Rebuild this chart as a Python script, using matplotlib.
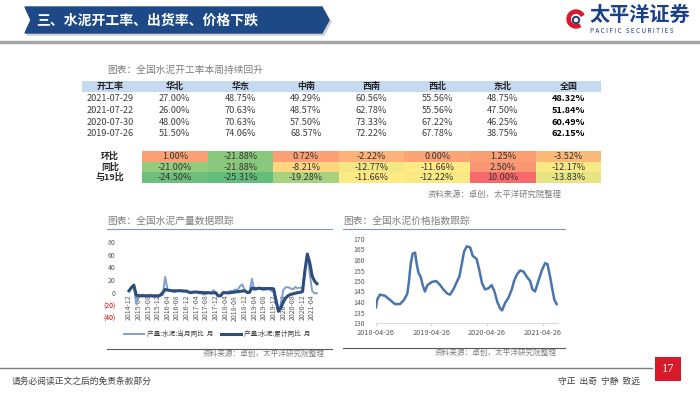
import numpy as np
import pandas as pd
import matplotlib
matplotlib.use("Agg")
import matplotlib.pyplot as plt
import matplotlib.dates as mdates
from matplotlib.patches import Polygon, Rectangle, Wedge, Circle
from matplotlib.colors import LinearSegmentedColormap, TwoSlopeNorm

plt.rcParams['font.family'] = ['Noto Sans CJK SC', 'DejaVu Sans']

W, H = 700, 394

# ---- 开工率表格 ----
weeks = ['2021-07-29', '2021-07-22', '2020-07-30', '2019-07-26']
regions = ['华北', '华东', '中南', '西南', '西北', '东北', '全国']
rate_210729 = [27.00, 48.75, 49.29, 60.56, 55.56, 48.75, 48.32]
rate_210722 = [26.00, 70.63, 48.57, 62.78, 55.56, 47.50, 51.84]
rate_200730 = [48.00, 70.63, 57.50, 73.33, 67.22, 46.25, 60.49]
rate_190726 = [51.50, 74.06, 68.57, 72.22, 67.78, 38.75, 62.15]
chg_labels = ['环比', '同比', '与19比']
chg_hb = [1.00, -21.88, 0.72, -2.22, 0.00, 1.25, -3.52]
chg_tb = [-21.00, -21.88, -8.21, -12.77, -11.66, 2.50, -12.17]
chg_19 = [-24.50, -25.31, -19.28, -11.66, -12.22, 10.00, -13.83]

# ---- 水泥产量同比 (月) ----
prod_months = pd.date_range('2014-12-01', '2021-06-01', freq='MS')
prod_month_yoy = [2, 9, 11, -18, -3, -4, -3, -5, -4, -3, -7, -6, -8,
                  -4, -4, 25, 5, 3, 2, 1, 3, 4, 2, 2, 2,
                  0, 0, 1, 1, -1, -1, -3, -2, 0, -1, 4, 0,
                  -5, -5, 0, -1, 1, 3, 2, 5, 4, 10, 13, 4,
                  0, 0, 22, 4, 5, 8, 5, 4, 5, 6, 3, 1,
                  -15, -29.5, -18, 4, 8.5, 8.6, 7, 5, 9, 7, 8, 7,
                  35, 61, 30, 2.5, -1, -1]
prod_cum_yoy = [3, 8, 12, -4, -5, -5, -5, -5, -5, -5, -5, -5, -5,
                -4, 0, 5, 4, 3.5, 3, 3, 3, 3, 3, 2.5, 2.5,
                0.5, 0.3, 1, 1, 0.5, 0.5, 0, 0, 0, -0.5, -0.3, -0.2,
                -5, -5, 0, 0, -0.5, 0, 0.5, 1, 1.5, 2, 2.5, 3,
                0.5, 0.5, 7.3, 6.5, 6.5, 7, 6.5, 6.5, 6.5, 6.5, 6.5, 6.1,
                -12, -29.5, -23.9, -14.8, -8.5, -4.8, -2.9, -1.9, -0.9, 0, 0.6, 1.6,
                35, 61, 47.3, 26.2, 18.2, 14.1]
prod_ticks = ['2014-12', '2015-04', '2015-08', '2015-12', '2016-04', '2016-08',
              '2016-12', '2017-04', '2017-08', '2017-12', '2018-04', '2018-08',
              '2018-12', '2019-04', '2019-08', '2019-12', '2020-04', '2020-08',
              '2020-12', '2021-04']

# ---- 水泥价格指数 ----
price_dates = ['2018-04-26', '2018-05-03', '2018-05-22', '2018-06-24', '2018-07-27',
               '2018-08-29', '2018-10-01', '2018-10-27', '2018-11-18', '2018-11-29',
               '2018-12-10', '2018-12-23', '2019-01-08', '2019-01-19', '2019-01-30',
               '2019-02-14', '2019-02-27', '2019-03-14', '2019-03-30', '2019-04-27',
               '2019-05-26', '2019-06-17', '2019-07-13', '2019-08-08', '2019-08-26',
               '2019-09-17', '2019-10-09', '2019-10-26', '2019-11-11', '2019-11-26',
               '2019-12-14', '2020-01-05', '2020-01-22', '2020-02-17', '2020-03-06',
               '2020-03-23', '2020-04-12', '2020-05-04', '2020-05-26', '2020-06-13',
               '2020-07-02', '2020-07-20', '2020-08-02', '2020-08-22', '2020-09-13',
               '2020-10-05', '2020-10-20', '2020-11-07', '2020-11-29', '2020-12-21',
               '2021-01-12', '2021-02-03', '2021-02-18', '2021-03-07', '2021-03-29',
               '2021-04-20', '2021-05-12', '2021-05-28', '2021-06-14', '2021-06-29',
               '2021-07-12', '2021-07-28']
price_index = [137.5, 141, 143.5, 143, 141,
               139, 139, 141, 144, 150,
               158, 163, 163.5, 158, 154,
               152, 148, 145, 148, 149.5,
               150, 148.5, 146, 144, 143.5,
               146, 149.5, 152, 158, 164,
               166.5, 166, 162, 160.5, 155,
               149, 146, 146.5, 148, 145,
               140, 137, 136, 139.5, 142,
               146, 150, 153, 155, 154.5,
               152, 150, 146, 145, 150,
               155, 158.5, 158, 152, 146,
               141, 139]
price_ticks = ['2018-04-26', '2019-04-26', '2020-04-26', '2021-04-26']


def frac(x0, y0, x1, y1):
    # 像素框 -> figure 坐标
    return [x0 / W, 1 - y1 / H, (x1 - x0) / W, (y1 - y0) / H]


fig = plt.figure(figsize=(7, 3.94), dpi=100)
bg = fig.add_axes([0, 0, 1, 1])
bg.set_xlim(0, W)
bg.set_ylim(H, 0)
bg.axis('off')

# 标题栏
bg.add_patch(Polygon([(27, 10), (324, 10), (331, 22), (324, 35), (27, 35), (33, 22)],
                     closed=True, color='#D0D0D0', zorder=1))
bg.add_patch(Polygon([(25, 7), (322, 7), (329, 20), (322, 33), (25, 33), (31, 20)],
                     closed=True, color='#1D4A86', zorder=2))
bg.text(36, 20.5, '三、水泥开工率、出货率、价格下跌', color='white', fontsize=10,
        fontweight='bold', va='center', ha='left', zorder=3)

# logo
bg.add_patch(Wedge((576, 19), 9, 60, 330, width=3.2, color='#D7192A'))
bg.add_patch(Circle((576, 20), 3.2, fill=False, ec='#1C3F8A', lw=1.4))
bg.text(589, 14, '太平洋证券', color='#1C3F8A', fontsize=14.5, fontweight='bold',
        va='center', ha='left')
bg.text(590, 31, 'P A C I F I C   S E C U R I T I E S', color='#1C3F8A', fontsize=4.6,
        va='center', ha='left')
bg.plot([0, W], [42, 42], color='#A6A6A6', lw=2.5)

# 表格
gray_txt = '#404040'
bg.text(107, 70, '图表：全国水泥开工率本周持续回升', fontsize=7, color='#7F7F7F',
        va='center', ha='left')
col_x0, col_w = 142, 65.6
bg.add_patch(Rectangle((82, 81), 601 - 82, 11, color='#C5D9F1', lw=0))
bg.text(110, 86.5, '开工率', fontsize=6.5, fontweight='bold', color='#262626',
        ha='center', va='center')
for j, r in enumerate(regions):
    bg.text(col_x0 + col_w * (j + 0.5), 86.5, r, fontsize=6.5, fontweight='bold',
            color='#262626', ha='center', va='center')
rate_rows = [rate_210729, rate_210722, rate_200730, rate_190726]
for i, (wk, row) in enumerate(zip(weeks, rate_rows)):
    y = 98 + 12 * i
    bg.text(110, y, wk, fontsize=6.6, color=gray_txt, ha='center', va='center')
    for j, v in enumerate(row):
        last = j == len(row) - 1
        bg.text(col_x0 + col_w * (j + 0.5), y, f'{v:.2f}%', fontsize=6.6,
                color='black' if last else gray_txt,
                fontweight='bold' if last else 'normal', ha='center', va='center')

# 涨跌热力
chg = np.array([chg_hb, chg_tb, chg_19])
cmap = LinearSegmentedColormap.from_list('gyr', ['#63BE7B', '#FFEB84', '#F8696B'])
norm = TwoSlopeNorm(vmin=chg.min(), vcenter=np.median(chg), vmax=chg.max())
axh = fig.add_axes(frac(col_x0, 151, col_x0 + col_w * 7, 183))
axh.pcolormesh(np.arange(8), np.arange(4), chg, cmap=cmap, norm=norm)
axh.set_xlim(0, 7)
axh.set_ylim(3, 0)
axh.axis('off')
for i in range(3):
    for j in range(7):
        axh.text(j + 0.5, i + 0.5, f'{chg[i, j]:.2f}%', fontsize=6.5,
                 color='#333333', ha='center', va='center')
    bg.text(110, 156.3 + 10.67 * i, chg_labels[i], fontsize=6.5, fontweight='bold',
            color='#262626', ha='center', va='center')
bg.text(562, 194, '资料来源：卓创，太平洋研究院整理', fontsize=6, color='#7F7F7F',
        style='italic', ha='right', va='center')

# 左图：产量
bg.text(107, 221, '图表：全国水泥产量数据跟踪', fontsize=7, color='#7F7F7F',
        va='center', ha='left')
bg.plot([107, 332], [228.5, 228.5], color='#8497B0', lw=0.8)
bg.plot([107, 332], [349, 349], color='#595959', lw=0.8)
bg.text(325, 354, '资料来源：卓创，太平洋研究院整理', fontsize=5.5, color='#7F7F7F',
        style='italic', ha='right', va='center')

axl = fig.add_axes(frac(126.6, 242, 320.6, 318))
xi = np.arange(len(prod_months))
axl.plot(xi, prod_month_yoy, color='#7F9FCF', lw=1.4, label='产量:水泥:当月同比  月')
axl.plot(xi, prod_cum_yoy, color='#2E4D7B', lw=2.2, label='产量:水泥:累计同比  月')
axl.set_xlim(-1, 79.5)
axl.set_ylim(-40, 80)
for s in ['top', 'right', 'left']:
    axl.spines[s].set_visible(False)
axl.spines['bottom'].set_position(('data', 0))
axl.spines['bottom'].set_visible(False)
month_str = [d.strftime('%Y-%m') for d in prod_months]
axl.set_xticks([month_str.index(t) for t in prod_ticks])
axl.set_xticklabels(prod_ticks, rotation=90, fontsize=5, color='#595959')
yt = [-40, -20, 0, 20, 40, 60, 80]
axl.set_yticks(yt)
axl.set_yticklabels([f'({-v})' if v < 0 else str(v) for v in yt], fontsize=5,
                    color='#595959')
for lab, v in zip(axl.get_yticklabels(), yt):
    if v < 0:
        lab.set_color('#C00000')
axl.tick_params(length=0, pad=1.5)
axl.tick_params(axis='y', pad=8)
axl.patch.set_alpha(0)
fig.legend(loc='center left', bbox_to_anchor=(118 / W, 1 - 334 / H), ncol=2,
           frameon=False, fontsize=4.8, handlelength=3.0, handletextpad=0.4,
           columnspacing=1.2, labelcolor='#404040')

# 右图：价格指数
bg.text(343, 221, '图表：全国水泥价格指数跟踪', fontsize=7, color='#7F7F7F',
        va='center', ha='left')
bg.plot([343, 565], [228.5, 228.5], color='#8497B0', lw=0.8)
bg.plot([343, 565], [348, 348], color='#595959', lw=0.8)
bg.text(557, 353, '资料来源：卓创，太平洋研究院整理', fontsize=5.5, color='#7F7F7F',
        style='italic', ha='right', va='center')

axr = fig.add_axes(frac(376, 239, 558, 323))
pdates = pd.to_datetime(price_dates)
axr.plot(pdates, price_index, color='#4A74AE', lw=1.8)
axr.set_xlim(pd.Timestamp('2018-04-26'), pd.Timestamp('2021-08-05'))
axr.set_ylim(130, 170)
axr.set_yticks(range(130, 171, 5))
axr.set_yticklabels([str(v) for v in range(130, 171, 5)], fontsize=5, color='#595959')
axr.set_xticks(pd.to_datetime(price_ticks))
axr.set_xticklabels(price_ticks, fontsize=5.3, color='#595959')
for s in ['top', 'right', 'left']:
    axr.spines[s].set_visible(False)
axr.spines['bottom'].set_color('#D9D9D9')
axr.tick_params(axis='y', length=0, pad=8)
axr.tick_params(axis='x', length=2, color='#D9D9D9', pad=2)
axr.patch.set_alpha(0)

# 页脚
bg.plot([0, 652], [368, 368], color='#7F7F7F', lw=1)
bg.add_patch(Rectangle((655, 357), 26, 24, color='#D7192A', lw=0))
bg.text(668, 369, '17', color='white', fontsize=9, ha='center', va='center',
        family=['Liberation Serif', 'DejaVu Serif'])
bg.text(12, 381, '请务必阅读正文之后的免责条款部分', fontsize=6.3, color='#404040',
        ha='left', va='center')
bg.text(640, 381, '守正  出奇  宁静  致远', fontsize=6.3, color='#404040',
        ha='right', va='center')

fig.savefig('out.png', dpi=100)
